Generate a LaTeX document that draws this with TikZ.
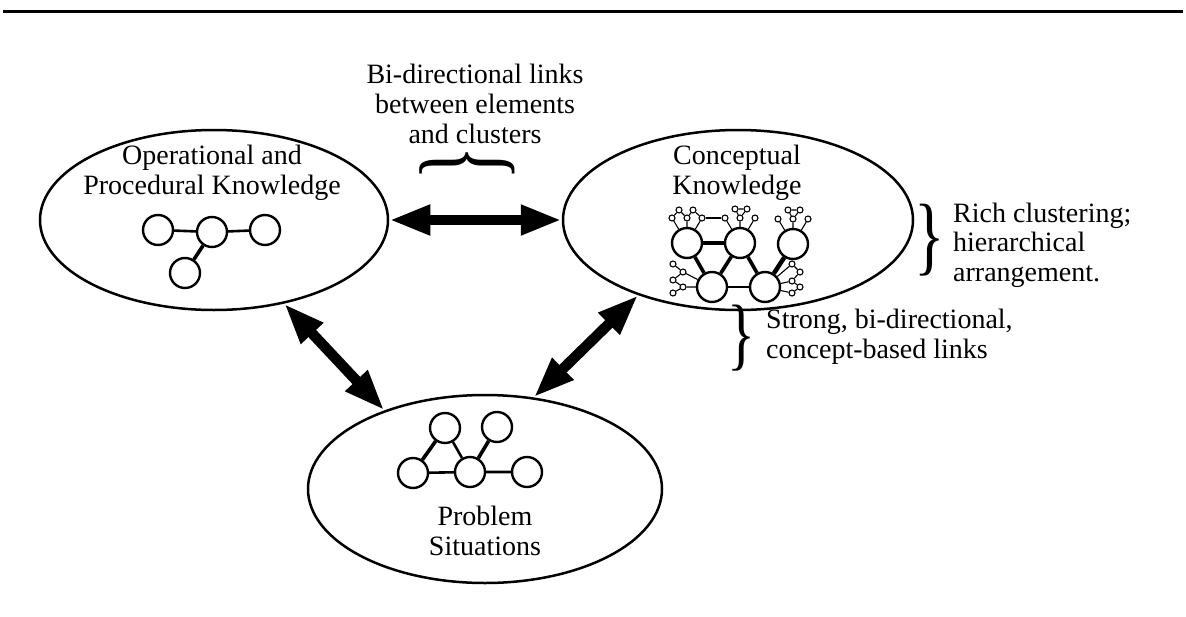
\documentclass[tikz,border=0pt]{standalone}
\usepackage{fontspec}
\setmainfont{Liberation Serif}
\usetikzlibrary{shapes.geometric,arrows.meta,calc}
\begin{document}
\begin{tikzpicture}[x=1pt,y=-1pt,
  txt/.style={font=\fontsize{28}{30}\selectfont, align=center, inner sep=0, anchor=base},
  ltxt/.style={font=\fontsize{28}{29.5}\selectfont, align=left, inner sep=0, anchor=base west},
  oval/.style={draw, ellipse, line width=2.5pt, inner sep=0},
  bigc/.style={draw, circle, line width=2.4pt, minimum size=30pt, inner sep=0, fill=white},
  smc/.style={draw, circle, line width=1.1pt, minimum size=6pt, inner sep=0, fill=white},
  thk/.style={line width=2.6pt},
  vthk/.style={line width=3.6pt},
  thn/.style={line width=1.1pt},
  dblarrow/.style={line width=10.5pt, {Triangle[length=41pt,width=28pt]}-{Triangle[length=41pt,width=28pt]}}
]
\useasboundingbox (0,0) rectangle (1186,616);
% top rule
\coordinate (tl) at (3,11);
\coordinate (tr) at (1183,11);
\draw[line width=3pt] (tl) -- (tr);

% ellipses
\node[oval, minimum width=348pt, minimum height=180pt] (L) at (214,220) {};
\node[oval, minimum width=350pt, minimum height=180pt] (R) at (738,220) {};
\node[oval, minimum width=354pt, minimum height=188pt] (B) at (485,489) {};

% texts in ellipses (anchor = baseline of last line)
\node[txt] (Ltxt) at (212,194) {Operational and\\Procedural Knowledge};
\node[txt] (Rtxt) at (737,194) {Conceptual\\Knowledge};
\node[txt] (Btxt) at (485,555) {Problem\\Situations};

% top text and brace
\node[txt] (toptxt) at (475,143) {Bi-directional links\\between elements\\and clusters};
\node[rotate=90, inner sep=0] (brtop) at (467,163) {\scalebox{0.62}[1]{\fontsize{115}{115}\selectfont\}}};

% right braces and texts
\node[inner sep=0] (br1) at (930,240) {\scalebox{0.73}[1]{\fontsize{87}{87}\selectfont\}}};
\node[ltxt] (r1txt) at (953,281) {Rich clustering;\\hierarchical\\arrangement.};
\node[inner sep=0] (br2) at (742,338) {\scalebox{0.73}[1]{\fontsize{80}{80}\selectfont\}}};
\node[ltxt] (r2txt) at (766,358) {Strong, bi-directional,\\concept-based links};

% arrows
\draw[dblarrow] (L.east) -- (R.west);
\draw[dblarrow] (L.-50) -- (B.142);
\draw[dblarrow] (R.217) -- (B.62);

% left graph
\node[bigc] (A1) at (158,230) {};
\node[bigc] (A2) at (212,232) {};
\node[bigc] (A3) at (265,230) {};
\node[bigc] (A4) at (185,273) {};
\draw[thk] (A1) -- (A2) -- (A3);
\draw[vthk] (A2) -- (A4);

% bottom graph
\node[bigc] (B1) at (445,428) {};
\node[bigc] (B2) at (497,427) {};
\node[bigc] (B3) at (413,473) {};
\node[bigc] (B4) at (470,472) {};
\node[bigc] (B5) at (527,472) {};
\draw[vthk] (B3) -- (B1);
\draw[thk] (B1) -- (B4);
\draw[vthk] (B2) -- (B4);
\draw[thk] (B3) -- (B4) -- (B5);

% conceptual graph
\node[bigc] (C1) at (687,243) {};
\node[bigc] (C2) at (740,243) {};
\node[bigc] (C3) at (793,244) {};
\node[bigc] (C4) at (712,287) {};
\node[bigc] (C5) at (765,287) {};
\draw[vthk] (C1) -- (C2);
\draw[vthk] (C1) -- (C4);
\draw[vthk] (C2) -- (C4);
\draw[vthk] (C2) -- (C5);
\draw[thk] (C4) -- (C5);
\draw[line width=4.5pt] (C3) -- (C5);

% cluster above C1
\foreach \n/\dx/\dy in {l/-15/-25, ul/-8/-33, m/0/-25, ur/6/-33, r/15/-25}{
  \node[smc] (C1\n) at ($(C1)+(\dx,\dy)$) {};
}
\draw[thn] (C1) -- (C1l) (C1) -- (C1m) (C1) -- (C1r);
\draw[thn] (C1l) -- (C1ul) -- (C1m) -- (C1ur) -- (C1r);

% clusters above C2 and C3
\foreach \c in {C2,C3}{
  \foreach \n/\dx/\dy in {l/-15/-25, tl/-5/-34, m/0/-25, tr/7/-34, r/15/-25}{
    \node[smc] (\c\n) at ($(\c)+(\dx,\dy)$) {};
  }
  \draw[thn] (\c) -- (\c l) (\c) -- (\c m) (\c) -- (\c r);
  \draw[thn] (\c tl) -- (\c tr) -- (\c m) -- (\c tl);
}
\draw[thn] (C1r) -- (C2l);

% cluster left of C4
\foreach \n/\dx/\dy in {a/-39/-23, b/-29/-15, c/-39/-7, d/-29/0, e/-39/6}{
  \node[smc] (C4\n) at ($(C4)+(\dx,\dy)$) {};
}
\draw[thn] (C4) -- (C4b) (C4) -- (C4d);
\draw[thn] (C4a) -- (C4b) -- (C4c) -- (C4d) -- (C4e);

% cluster right of C5
\foreach \n/\dx/\dy in {a/27/-23, b/35/-15, c/27/-6, d/35/0, e/27/6}{
  \node[smc] (C5\n) at ($(C5)+(\dx,\dy)$) {};
}
\draw[thn] (C5) -- (C5a) (C5) -- (C5c) (C5) -- (C5e);
\draw[thn] (C5a) -- (C5b) -- (C5c) -- (C5d) -- (C5e);
\end{tikzpicture}
\end{document}
